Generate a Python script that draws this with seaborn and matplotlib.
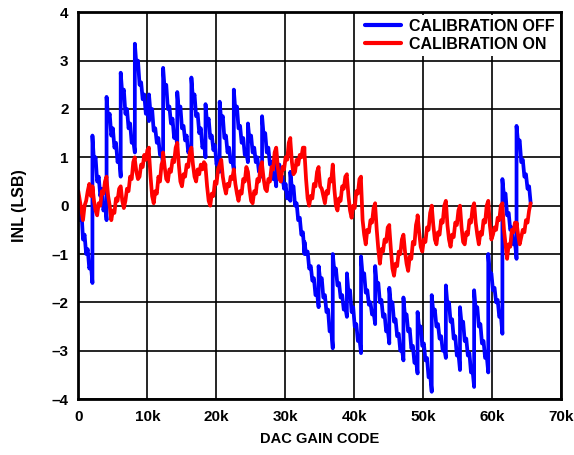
import numpy as np
import pandas as pd
import matplotlib
matplotlib.use('Agg')
import matplotlib.pyplot as plt
import seaborn as sns

# DAC gain codes where each 2048-code segment begins (last value = full scale)
tooth_start = [0, 2048, 4096, 6144, 8192, 10240, 12288, 14336, 16384, 18432,
               20480, 22528, 24576, 26624, 28672, 30720, 32768, 34816, 36864,
               38912, 40960, 43008, 45056, 47104, 49152, 51200, 53248, 55296,
               57344, 59392, 61440, 63488, 65535]

# INL (LSB), samples spread evenly across each segment
inl_off = [
    [0.2, -0.3, -0.1, -0.7, -0.6, -1.0, -0.9, -1.3, -1.2, -1.6],
    [1.45, 0.9, 1.0, 0.5, 0.6, 0.2, 0.35, -0.1, 0.05, -0.3],
    [2.25, 1.8, 1.9, 1.45, 1.6, 1.2, 1.3, 0.9, 1.0, 0.6],
    [2.75, 2.3, 2.4, 1.9, 2.0, 1.6, 1.7, 1.3, 1.35, 1.1],
    [3.35, 2.9, 3.0, 2.5, 2.55, 2.2, 2.3, 1.9, 2.0, 1.75],
    [2.3, 1.9, 2.0, 1.55, 1.6, 1.3, 1.4, 1.05, 1.1, 0.85],
    [2.85, 2.4, 2.5, 2.0, 2.05, 1.7, 1.8, 1.4, 1.5, 1.25],
    [2.35, 1.95, 2.05, 1.6, 1.65, 1.35, 1.45, 1.1, 1.2, 1.05],
    [2.65, 2.2, 2.3, 1.85, 1.9, 1.5, 1.6, 1.2, 1.3, 1.0],
    [2.1, 1.7, 1.8, 1.4, 1.45, 1.15, 1.25, 0.85, 0.95, 0.7],
    [2.15, 1.75, 1.85, 1.4, 1.45, 1.1, 1.2, 0.9, 0.95, 0.75],
    [2.4, 1.95, 2.05, 1.6, 1.65, 1.3, 1.4, 1.05, 1.1, 0.9],
    [1.7, 1.35, 1.45, 1.1, 1.2, 0.9, 1.0, 0.7, 0.8, 0.6],
    [1.85, 1.45, 1.5, 1.1, 1.2, 0.85, 0.9, 0.55, 0.65, 0.4],
    [1.05, 0.75, 0.85, 0.5, 0.6, 0.35, 0.45, 0.15, 0.25, 0.1],
    [0.7, 0.35, 0.4, 0.0, 0.05, -0.3, -0.25, -0.6, -0.55, -1.0],
    [-0.75, -1.0, -0.95, -1.3, -1.25, -1.55, -1.5, -1.85, -1.8, -2.1],
    [-1.25, -1.55, -1.5, -1.9, -1.85, -2.2, -2.15, -2.6, -2.55, -2.95],
    [-1.0, -1.35, -1.3, -1.65, -1.6, -1.9, -1.85, -2.15, -2.1, -2.3],
    [-1.4, -1.8, -1.75, -2.2, -2.1, -2.5, -2.45, -2.8, -2.75, -3.05],
    [-1.05, -1.45, -1.4, -1.8, -1.75, -2.05, -2.0, -2.25, -2.2, -2.45],
    [-1.25, -1.65, -1.6, -2.0, -1.95, -2.3, -2.25, -2.6, -2.55, -2.85],
    [-1.7, -2.05, -2.0, -2.4, -2.35, -2.7, -2.65, -3.0, -2.95, -3.2],
    [-1.9, -2.3, -2.25, -2.6, -2.55, -2.95, -2.9, -3.25, -3.2, -3.47],
    [-2.2, -2.55, -2.5, -2.9, -2.85, -3.2, -3.15, -3.55, -3.5, -3.85],
    [-1.85, -2.2, -2.15, -2.5, -2.45, -2.75, -2.7, -3.0, -2.95, -3.15],
    [-1.65, -2.05, -2.0, -2.4, -2.35, -2.75, -2.7, -3.1, -3.05, -3.4],
    [-2.1, -2.45, -2.4, -2.8, -2.75, -3.1, -3.05, -3.45, -3.4, -3.75],
    [-1.75, -2.15, -2.1, -2.5, -2.45, -2.85, -2.8, -3.15, -3.1, -3.45],
    [-1.0, -1.45, -1.4, -1.75, -1.7, -2.0, -1.95, -2.3, -2.25, -2.65],
    [0.55, 0.2, 0.25, -0.2, -0.15, -0.5, -0.45, -0.8, -0.75, -1.1],
    [1.65, 1.3, 1.35, 0.9, 0.95, 0.6, 0.65, 0.35, 0.4, 0.05],
]

inl_on = [
    [0.3, 0.1, -0.1, -0.3, 0.0, 0.1, 0.3, 0.45, 0.2, 0.25],
    [0.4, 0.1, -0.1, -0.2, 0.05, 0.0, 0.3, 0.25, 0.5, 0.6],
    [0.55, 0.2, 0.0, -0.3, -0.1, -0.15, 0.15, 0.1, 0.35, 0.4],
    [0.4, 0.1, -0.05, 0.1, 0.35, 0.3, 0.6, 0.55, 0.9, 1.0],
    [0.95, 0.7, 0.55, 0.6, 0.85, 0.8, 1.05, 0.95, 1.15, 1.2],
    [1.1, 0.6, 0.2, 0.05, 0.3, 0.25, 0.6, 0.5, 0.85, 0.95],
    [1.1, 0.8, 0.55, 0.5, 0.75, 0.7, 0.95, 0.9, 1.2, 1.3],
    [1.3, 0.85, 0.5, 0.4, 0.65, 0.6, 0.85, 0.8, 1.1, 1.2],
    [1.2, 0.85, 0.6, 0.5, 0.75, 0.65, 0.85, 0.75, 0.9, 0.85],
    [0.8, 0.4, 0.1, 0.0, 0.25, 0.2, 0.5, 0.45, 0.75, 0.85],
    [0.85, 0.95, 0.6, 0.4, 0.25, 0.45, 0.4, 0.6, 0.55, 0.75],
    [0.75, 0.45, 0.25, 0.1, 0.3, 0.25, 0.55, 0.5, 0.8, 0.7],
    [0.7, 0.35, 0.1, 0.05, 0.3, 0.25, 0.55, 0.5, 0.8, 0.9],
    [0.85, 0.55, 0.35, 0.3, 0.55, 0.5, 0.8, 0.75, 1.1, 1.2],
    [1.2, 0.8, 0.55, 0.5, 0.8, 0.75, 1.0, 0.95, 1.3, 1.4],
    [1.35, 0.9, 0.65, 0.7, 0.95, 0.85, 1.05, 1.0, 1.2, 1.2],
    [1.1, 0.55, 0.15, 0.0, 0.2, 0.15, 0.45, 0.4, 0.7, 0.8],
    [0.75, 0.4, 0.35, 0.2, 0.05, 0.3, 0.25, 0.55, 0.5, 0.85],
    [0.85, 0.35, 0.0, -0.1, 0.15, 0.1, 0.4, 0.35, 0.6, 0.65],
    [0.6, 0.2, -0.1, -0.25, 0.0, -0.05, 0.3, 0.25, 0.55, 0.6],
    [0.5, -0.3, -0.6, -0.8, -0.5, -0.55, -0.3, -0.35, -0.05, 0.05],
    [0.0, -0.5, -0.9, -1.2, -0.9, -0.95, -0.7, -0.75, -0.45, -0.4],
    [-0.45, -0.9, -1.3, -1.45, -1.2, -1.25, -0.95, -1.0, -0.7, -0.6],
    [-0.6, -0.95, -1.2, -1.35, -1.05, -1.1, -0.75, -0.8, -0.4, -0.25],
    [-0.2, -0.55, -0.85, -0.95, -0.7, -0.75, -0.45, -0.5, -0.15, -0.02],
    [0.0, -0.4, -0.7, -0.8, -0.55, -0.6, -0.3, -0.35, 0.0, 0.1],
    [0.1, -0.4, -0.7, -0.85, -0.6, -0.65, -0.35, -0.4, -0.1, 0.0],
    [0.0, -0.45, -0.75, -0.8, -0.55, -0.6, -0.3, -0.35, -0.05, 0.05],
    [0.05, -0.35, -0.6, -0.8, -0.55, -0.6, -0.3, -0.35, 0.0, 0.1],
    [0.1, -0.4, -0.7, -0.6, -0.45, -0.5, -0.25, -0.3, 0.0, 0.05],
    [0.0, -0.5, -0.8, -1.1, -0.8, -0.85, -0.5, -0.55, -0.35, -0.4],
    [-0.35, -0.6, -0.8, -0.65, -0.5, -0.55, -0.3, -0.35, -0.1, 0.05],
]

series_names = ['CALIBRATION OFF', 'CALIBRATION ON']
x_ticks = [0, 10000, 20000, 30000, 40000, 50000, 60000, 70000]
x_labels = ['0', '10k', '20k', '30k', '40k', '50k', '60k', '70k']
y_ticks = [-4, -3, -2, -1, 0, 1, 2, 3, 4]
y_labels = ['–4', '–3', '–2', '–1', '0', '1', '2', '3', '4']


def build_rows(teeth, name):
    rows = []
    for i, ys in enumerate(teeth):
        xs = np.linspace(tooth_start[i], tooth_start[i + 1], len(ys))
        for x, y in zip(xs, ys):
            rows.append({'code': x, 'inl': y, 'series': name})
    return rows


df = pd.DataFrame(build_rows(inl_off, series_names[0]) + build_rows(inl_on, series_names[1]))

sns.set_style('white')
plt.rcParams['font.family'] = ['Liberation Sans', 'DejaVu Sans']
plt.rcParams['font.weight'] = 'bold'
plt.rcParams['text.color'] = 'black'
plt.rcParams['axes.labelcolor'] = 'black'
plt.rcParams['xtick.color'] = 'black'
plt.rcParams['ytick.color'] = 'black'

fig = plt.figure(figsize=(5.74, 4.55), dpi=100)
ax = fig.add_axes([0.1364, 0.123, 0.8418, 0.850])

sns.lineplot(data=df, x='code', y='inl', hue='series', hue_order=series_names,
             palette={series_names[0]: '#0000ff', series_names[1]: '#ff0000'},
             estimator=None, sort=False, linewidth=2.7, ax=ax)

ax.set_xlim(0, 70000)
ax.set_ylim(-4, 4)
ax.set_xticks(x_ticks)
ax.set_xticklabels(x_labels, fontsize=11, fontweight='bold', color='black')
ax.set_yticks(y_ticks)
ax.set_yticklabels(y_labels, fontsize=11, fontweight='bold', color='black')
ax.tick_params(length=0, pad=8)
ax.tick_params(axis='y', pad=7)
ax.set_xlabel('DAC GAIN CODE', fontsize=10.5, fontweight='bold', labelpad=6, color='black')
ax.set_ylabel('INL (LSB)', fontsize=11.5, fontweight='bold', labelpad=18, color='black')

ax.grid(True, color='black', linewidth=1.2)
ax.set_axisbelow(True)
for sp in ax.spines.values():
    sp.set_color('black')
    sp.set_linewidth(2)

old = ax.get_legend()
handles = old.legend_handles
labels = [t.get_text() for t in old.texts]
for h in handles:
    h.set_linewidth(3)
leg = ax.legend(handles, labels, loc='upper right', frameon=True, facecolor='white',
                edgecolor='none', framealpha=1, fancybox=False,
                prop={'weight': 'bold', 'size': 11.5}, handlelength=2.3,
                handletextpad=0.5, labelspacing=0.2, borderpad=0.25, borderaxespad=0.15)
for t in leg.get_texts():
    t.set_color('black')

fig.savefig('out.png', dpi=100)
